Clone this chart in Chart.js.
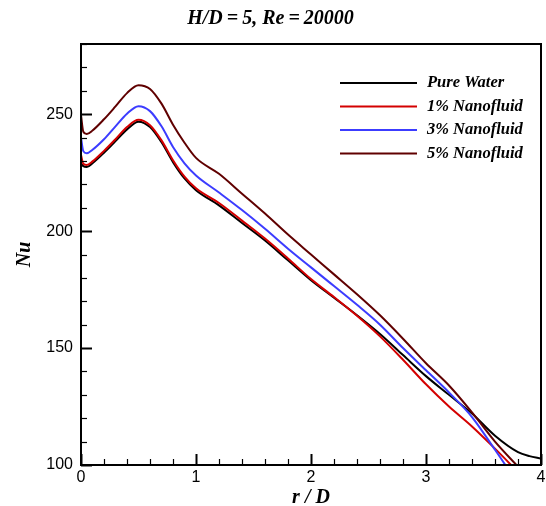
<!DOCTYPE html>
<html>
<head>
<meta charset="utf-8">
<script src="https://cdn.jsdelivr.net/npm/chart.js@4.4.1/dist/chart.umd.min.js"></script>
<style>
  html, body { margin: 0; padding: 0; background: #fff; }
  #wrap { width: 546px; height: 506px; }
</style>
</head>
<body>
<div id="wrap"><canvas id="c" width="546" height="506"></canvas></div>
<script>
// r/D stations shared by all four curves
const rD = [0, 0.02, 0.05, 0.1, 0.2, 0.3, 0.4, 0.5, 0.6, 0.7, 0.8, 0.9, 1.0,
  1.2, 1.4, 1.6, 1.8, 2.0, 2.2, 2.4, 2.6, 2.8, 3.0, 3.2, 3.4, 3.6, 3.8, 3.9, 4.0];

const nuWater = [229, 227.8, 227.4, 229, 233.5, 238.5, 243.5, 246.8, 244.5, 238, 229.5, 222.5, 217.5,
  211, 203.5, 196, 187.5, 179, 171.5, 164, 156, 147, 138, 130, 122, 112.5, 105.5, 103.8, 102.8];
const nu1 = [232.5, 228.8, 228.3, 229.8, 234.3, 239.3, 244.5, 247.6, 245.3, 238.8, 230.3, 223.3, 218.3,
  212, 204.5, 196.8, 188.3, 179.5, 171.8, 163.8, 155, 145, 134.5, 125, 116.5, 107, 97, null, null];
const nu3 = [240, 234.2, 233.3, 234.8, 239.3, 244.8, 250.2, 253.4, 251.3, 244.8, 236, 229, 223.8,
  216.5, 209, 201, 192.5, 184.5, 176.5, 168.5, 160, 150, 140.5, 131, 120.5, 106.5, 92, null, null];
const nu5 = [249.6, 242.5, 241.5, 243, 247.8, 253.3, 259, 262.4, 260.8, 254.5, 245.5, 237.8, 231.3,
  224.5, 216, 207.5, 198.5, 190, 181.5, 173, 164, 154, 143.5, 134, 122.5, 110, 99.3, null, null];

const seriesNames = ["Pure Water", "1% Nanofluid", "3% Nanofluid", "5% Nanofluid"];
const seriesColors = ["#000000", "#d40000", "#3c3cff", "#600000"];
const seriesValues = [nuWater, nu1, nu3, nu5];

const serif = "'Liberation Serif', 'Times New Roman', serif";
const sans = "'Liberation Sans', Arial, sans-serif";

const points = (vals) =>
  rD.map((x, i) => (vals[i] === null ? null : { x, y: vals[i] })).filter(Boolean);

// frame box + inward ticks, tecplot style
const framePlugin = {
  id: "frame",
  afterDraw(chart) {
    const { ctx, chartArea: a, scales } = chart;
    ctx.save();
    ctx.strokeStyle = "#000";
    const tick = (x1, y1, x2, y2, w) => {
      ctx.lineWidth = w;
      ctx.beginPath();
      ctx.moveTo(x1, y1);
      ctx.lineTo(x2, y2);
      ctx.stroke();
    };
    for (let v = 0; v <= 4.0001; v += 0.2) {
      const major = Math.abs(v - Math.round(v)) < 1e-6;
      const px = Math.round(scales.x.getPixelForValue(v)) + 0.5;
      tick(px, a.bottom, px, a.bottom - (major ? 11 : 6), major ? 2 : 1.2);
    }
    for (let v = 100; v <= 280; v += 10) {
      const major = v % 50 === 0;
      const py = Math.round(scales.y.getPixelForValue(v)) + 0.5;
      tick(a.left, py, a.left + (major ? 11 : 6), py, major ? 2 : 1.2);
    }
    ctx.lineWidth = 2;
    ctx.strokeRect(a.left, a.top, a.right - a.left, a.bottom - a.top);

    // legend
    ctx.font = "bold italic 16.5px " + serif;
    ctx.textBaseline = "middle";
    ctx.fillStyle = "#000";
    chart.data.datasets.forEach((ds, i) => {
      const y = a.top + 39 + i * 23.5;
      ctx.strokeStyle = ds.borderColor;
      ctx.lineWidth = 2;
      ctx.beginPath();
      ctx.moveTo(a.right - 201, y);
      ctx.lineTo(a.right - 124, y);
      ctx.stroke();
      ctx.fillText(ds.label, a.right - 114, y);
    });
    ctx.restore();
  },
};

new Chart(document.getElementById("c"), {
  type: "line",
  data: {
    datasets: seriesNames.map((name, i) => ({
      label: name,
      data: points(seriesValues[i]),
      borderColor: seriesColors[i],
      borderWidth: 2,
      pointRadius: 0,
      fill: false,
      cubicInterpolationMode: "monotone",
      order: 4 - i,
    })),
  },
  options: {
    responsive: false,
    animation: false,
    layout: { padding: { left: 0, right: 5, top: 0, bottom: 0 } },
    plugins: {
      legend: { display: false },
      tooltip: { enabled: false },
      title: {
        display: true,
        text: "H/D\u2009=\u20095, Re\u2009=\u200920000",
        color: "#000",
        font: { family: serif, size: 20, style: "italic", weight: "bold", lineHeight: 1.2 },
        padding: { top: 7, bottom: 13 },
      },
    },
    scales: {
      x: {
        type: "linear",
        min: 0,
        max: 4,
        grid: { display: false, drawTicks: false },
        border: { display: false },
        ticks: { stepSize: 1, color: "#000", padding: 3, font: { family: sans, size: 16 } },
        title: {
          display: true,
          text: "r / D",
          color: "#000",
          font: { family: serif, size: 20, style: "italic", weight: "bold", lineHeight: 1.2 },
          padding: { top: 0, bottom: -4 },
        },
        afterFit: (s) => {
          s.height = 41;
          s.paddingLeft = 0;
          s.paddingRight = 0;
        },
      },
      y: {
        min: 100,
        max: 280,
        grid: { display: false, drawTicks: false },
        border: { display: false },
        ticks: { stepSize: 50, color: "#000", padding: 8, font: { family: sans, size: 16 } },
        afterBuildTicks: (s) => { s.ticks = s.ticks.filter((t) => t.value % 50 === 0); },
        title: {
          display: true,
          text: "Nu",
          color: "#000",
          font: { family: serif, size: 20, style: "italic", weight: "bold", lineHeight: 1.2 },
          padding: { top: 13, bottom: 0 },
        },
        afterFit: (s) => {
          s.width = 81;
          s.paddingTop = 0;
          s.paddingBottom = 0;
        },
      },
    },
  },
  plugins: [framePlugin],
});
</script>
</body>
</html>
